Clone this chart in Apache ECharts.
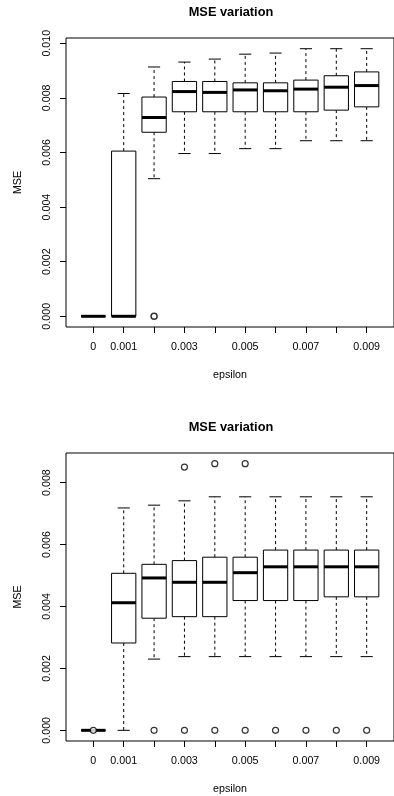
<!DOCTYPE html>
<html>
<head>
<meta charset="utf-8">
<script src="https://cdn.jsdelivr.net/npm/echarts@6/dist/echarts.min.js"></script>
<style>
html,body{margin:0;padding:0;background:#fff;}
#chart{width:394px;height:796px;}
</style>
</head>
<body>
<div id="chart"></div>
<script>
// ---- data ----
const categories = ['0','0.001','0.002','0.003','0.004','0.005','0.006','0.007','0.008','0.009'];
const xLabelShown = ['0','0.001','0.003','0.005','0.007','0.009'];

// top chart
const topMin = [0, 0,       0.00504, 0.00596, 0.00596, 0.00614, 0.00614, 0.00643, 0.00643, 0.00643];
const topQ1  = [0, 0,       0.00674, 0.00749, 0.00749, 0.00749, 0.00749, 0.00749, 0.00755, 0.00767];
const topMed = [0, 0,       0.00728, 0.00823, 0.00820, 0.00829, 0.00826, 0.00832, 0.00839, 0.00845];
const topQ3  = [0, 0.00605, 0.00803, 0.00860, 0.00860, 0.00855, 0.00855, 0.00865, 0.00881, 0.00895];
const topMax = [0, 0.00816, 0.00913, 0.00931, 0.00942, 0.00960, 0.00964, 0.00980, 0.00980, 0.00980];
const topOutCat = ['0.002'];
const topOutVal = [0];
const topYTicks = [0, 0.002, 0.004, 0.006, 0.008, 0.010];

// bottom chart
const botMin = [0, 0,       0.00230, 0.00238, 0.00238, 0.00238, 0.00238, 0.00238, 0.00238, 0.00238];
const botQ1  = [0, 0.00282, 0.00362, 0.00367, 0.00367, 0.00419, 0.00419, 0.00419, 0.00431, 0.00431];
const botMed = [0, 0.00412, 0.00492, 0.00478, 0.00478, 0.00509, 0.00528, 0.00528, 0.00528, 0.00528];
const botQ3  = [0, 0.00507, 0.00536, 0.00548, 0.00559, 0.00559, 0.00582, 0.00582, 0.00582, 0.00582];
const botMax = [0, 0.00718, 0.00727, 0.00741, 0.00754, 0.00754, 0.00754, 0.00754, 0.00754, 0.00754];
const botOutCat = ['0','0.002','0.003','0.004','0.005','0.006','0.007','0.008','0.009','0.003','0.004','0.005'];
const botOutVal = [0, 0, 0, 0, 0, 0, 0, 0, 0, 0.00850, 0.00861, 0.00861];
const botYTicks = [0, 0.002, 0.004, 0.006, 0.008];

// ---- helpers ----
const FONT = "'Liberation Sans', Arial, sans-serif";
const catPos = c => categories.indexOf(c) + 1;
const allCatPos = categories.map((c, i) => i + 1);
const labelPos = xLabelShown.map(catPos);

function boxData(mn, q1, md, q3, mx) {
  return categories.map((c, i) => [i + 1, mn[i], q1[i], md[i], q3[i], mx[i]]);
}
function outData(cats, vals) {
  return cats.map((c, i) => [catPos(c), vals[i]]);
}
function yRange(arrs) {
  const all = [].concat(...arrs);
  const lo = Math.min(...all), hi = Math.max(...all);
  const pad = (hi - lo) * 0.04;
  return [lo - pad, hi + pad];
}

function renderBox(params, api) {
  const x = api.value(0);
  const pMin = api.coord([x, api.value(1)]);
  const pQ1 = api.coord([x, api.value(2)]);
  const pMed = api.coord([x, api.value(3)]);
  const pQ3 = api.coord([x, api.value(4)]);
  const pMax = api.coord([x, api.value(5)]);
  const cx = pMed[0];
  const hw = api.size([0.4, 0])[0];
  const cw = api.size([0.2, 0])[0];
  const black = '#000';
  const dash = {stroke: black, lineWidth: 1, lineDash: [3, 3]};
  const solid = {stroke: black, lineWidth: 1};
  return {
    type: 'group',
    children: [
      {type: 'line', shape: {x1: cx, y1: pQ3[1], x2: cx, y2: pMax[1]}, style: dash},
      {type: 'line', shape: {x1: cx, y1: pQ1[1], x2: cx, y2: pMin[1]}, style: dash},
      {type: 'line', shape: {x1: cx - cw, y1: pMax[1], x2: cx + cw, y2: pMax[1]}, style: solid},
      {type: 'line', shape: {x1: cx - cw, y1: pMin[1], x2: cx + cw, y2: pMin[1]}, style: solid},
      {type: 'rect', shape: {x: cx - hw, y: pQ3[1], width: 2 * hw, height: pQ1[1] - pQ3[1]},
        style: {fill: '#fff', stroke: black, lineWidth: 1}},
      {type: 'line', shape: {x1: cx - hw, y1: pMed[1], x2: cx + hw, y2: pMed[1]},
        style: {stroke: black, lineWidth: 3}}
    ]
  };
}

const topRange = yRange([topMin, topMax, topOutVal]);
const botRange = yRange([botMin, botMax, botOutVal]);

function xAxisDef(gridIndex) {
  return {
    type: 'value', gridIndex: gridIndex, min: 0.1, max: 10.9, position: 'bottom',
    name: 'epsilon', nameLocation: 'middle', nameGap: 43,
    nameTextStyle: {fontFamily: FONT, fontSize: 10.7, color: '#000'},
    axisLine: {show: false, onZero: false},
    splitLine: {show: false},
    axisTick: {show: true, inside: false, length: 6, customValues: allCatPos, lineStyle: {color: '#000', width: 1}},
    axisLabel: {show: true, inside: false, margin: 15, customValues: labelPos, fontFamily: FONT, fontSize: 10.7, color: '#000',
      formatter: v => categories[Math.round(v) - 1]}
  };
}
function yAxisDef(gridIndex, range, ticks) {
  return {
    type: 'value', gridIndex: gridIndex, min: range[0], max: range[1], position: 'left',
    name: 'MSE', nameLocation: 'middle', nameGap: 42, nameRotate: 90,
    nameTextStyle: {fontFamily: FONT, fontSize: 10.7, color: '#000'},
    axisLine: {show: false, onZero: false},
    splitLine: {show: false},
    axisTick: {show: true, inside: false, length: 6, customValues: ticks, lineStyle: {color: '#000', width: 1}},
    axisLabel: {show: true, inside: false, margin: 13, rotate: 90, customValues: ticks, fontFamily: FONT, fontSize: 10.7, color: '#000',
      formatter: v => v.toFixed(3)}
  };
}

const chart = echarts.init(document.getElementById('chart'), null, {renderer: 'canvas'});
chart.setOption({
  animation: false,
  backgroundColor: '#fff',
  title: [
    {text: 'MSE variation', left: 231, top: 6, textAlign: 'center', padding: 0,
      textStyle: {fontFamily: FONT, fontSize: 12.8, fontWeight: 'bold', color: '#000'}},
    {text: 'MSE variation', left: 231, top: 421, textAlign: 'center', padding: 0,
      textStyle: {fontFamily: FONT, fontSize: 12.8, fontWeight: 'bold', color: '#000'}}
  ],
  grid: [
    {left: 66, top: 38, width: 330, height: 289, show: true, borderColor: '#000', borderWidth: 1, backgroundColor: 'transparent'},
    {left: 66, top: 453, width: 330, height: 289, show: true, borderColor: '#000', borderWidth: 1, backgroundColor: 'transparent'}
  ],
  xAxis: [xAxisDef(0), xAxisDef(1)],
  yAxis: [yAxisDef(0, topRange, topYTicks), yAxisDef(1, botRange, botYTicks)],
  series: [
    {type: 'custom', xAxisIndex: 0, yAxisIndex: 0, renderItem: renderBox,
      data: boxData(topMin, topQ1, topMed, topQ3, topMax), encode: {x: 0, y: [1, 2, 3, 4, 5]}, clip: false},
    {type: 'scatter', xAxisIndex: 0, yAxisIndex: 0, data: outData(topOutCat, topOutVal),
      symbol: 'circle', symbolSize: 6, itemStyle: {color: '#fff', borderColor: '#000', borderWidth: 1.5}, z: 5},
    {type: 'custom', xAxisIndex: 1, yAxisIndex: 1, renderItem: renderBox,
      data: boxData(botMin, botQ1, botMed, botQ3, botMax), encode: {x: 0, y: [1, 2, 3, 4, 5]}, clip: false},
    {type: 'scatter', xAxisIndex: 1, yAxisIndex: 1, data: outData(botOutCat, botOutVal),
      symbol: 'circle', symbolSize: 6, itemStyle: {color: '#fff', borderColor: '#000', borderWidth: 1.2}, z: 5}
  ]
});
</script>
</body>
</html>
